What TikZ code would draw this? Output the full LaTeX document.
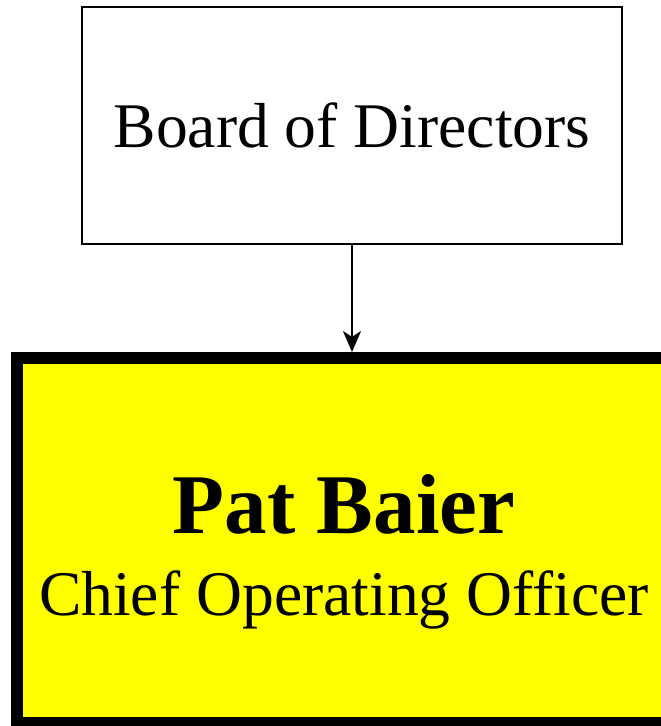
\documentclass[tikz,border=0pt]{standalone}
\usepackage{fontspec}
\setmainfont{Liberation Serif}
\usetikzlibrary{arrows.meta}
\definecolor{cooyellow}{RGB}{255,255,0}

\begin{document}
\begin{tikzpicture}[x=1pt,y=-1pt]
\tikzstyle{BoardStyle}=[draw,line width=2.4pt,inner sep=0pt,
  minimum width=540pt,minimum height=237pt,font=\fontsize{63.6}{76}\selectfont]
\tikzstyle{OfficerStyle}=[draw,fill=cooyellow,line width=12pt,inner sep=0pt,
  minimum width=654pt,minimum height=365pt]
\tikzstyle{EdgeStyle}=[line width=2.4pt,-{Stealth[length=21pt,width=18pt,inset=6pt]}]

\useasboundingbox (0,0) rectangle (661,726);

\node[BoardStyle] (board) at (352,125.5) {Board of Directors};
\node[OfficerStyle] (coo) at (344,540.5) {};

\node[anchor=base,font=\fontsize{85}{100}\selectfont\bfseries] (cooname) at (344,533) {Pat Baier};
\node[anchor=base,font=\fontsize{63.6}{76}\selectfont] (cootitle) at (344,615) {Chief Operating Officer};

\draw[EdgeStyle] (board) -- (board.south |- coo.north);

\end{tikzpicture}
\end{document}
